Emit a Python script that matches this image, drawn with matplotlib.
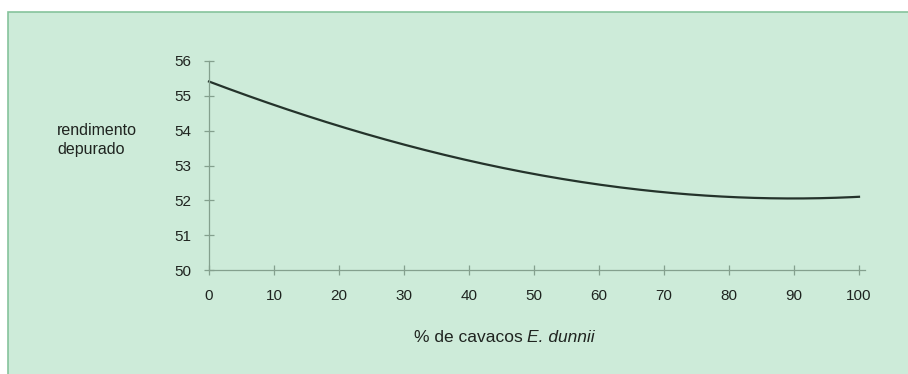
import matplotlib.pyplot as plt
from matplotlib.patches import Rectangle
import numpy as np

# Data
pct_dunnii = [0, 10, 20, 30, 40, 50, 60, 70, 80, 90, 100]
rendimento = [55.4, 54.75, 54.15, 53.6, 53.12, 52.75, 52.45, 52.25, 52.1, 52.05, 52.1]
x_ticks = [0, 10, 20, 30, 40, 50, 60, 70, 80, 90, 100]
y_ticks = [50, 51, 52, 53, 54, 55, 56]

plt.rcParams['font.family'] = ['Liberation Sans', 'DejaVu Sans']

W, H = 908, 374
fig = plt.figure(figsize=(W / 100, H / 100), dpi=100, facecolor='white')

# green panel behind the chart
panel = Rectangle((8 / W, -0.01), 1 - 8 / W + 0.01, 1 - 12 / H + 0.01, transform=fig.transFigure,
                  facecolor='#cdebd9', edgecolor='#86c39c', linewidth=1.2, zorder=-5)
fig.patches.append(panel)

# axes placed in pixel terms
x0, x100 = 209, 859
y50, y56 = 270, 61
ppu_x = (x100 - x0) / 100
xmax = 100.9
ax = fig.add_axes([x0 / W, (H - y50) / H, (xmax * ppu_x) / W, (y50 - y56) / H])
ax.patch.set_alpha(0)
ax.set_zorder(2)

# smooth the read values for drawing
xs = np.array(pct_dunnii, dtype=float)
ys = np.array(rendimento)
coef = np.polyfit(xs, ys, 3)
xf = np.linspace(0, 100, 200)
ax.plot(xf, np.polyval(coef, xf), color='#24332b', linewidth=1.6, clip_on=False)

ax.set_xlim(0, xmax)
ax.set_ylim(50, 56)
ax.set_xticks(x_ticks)
ax.set_yticks(y_ticks)

axis_col = '#84a08e'
for s in ['top', 'right']:
    ax.spines[s].set_visible(False)
for s in ['left', 'bottom']:
    ax.spines[s].set_color(axis_col)
    ax.spines[s].set_linewidth(0.9)
ax.tick_params(axis='both', direction='inout', length=7, width=0.9, color=axis_col,
               labelsize=11, labelcolor='#1f2420')
ax.tick_params(axis='y', pad=9)
ax.tick_params(axis='x', pad=10)

# x label: normal part + italic species name
fig.text(523 / W, 1 - 338 / H, '% de cavacos', ha='right', va='center',
         fontsize=12.5, color='#1f2420', zorder=3)
fig.text(527 / W, 1 - 338 / H, 'E. dunnii', ha='left', va='center',
         fontsize=12.5, fontstyle='italic', color='#1f2420', zorder=3)
fig.text(57 / W, 1 - 140 / H, 'rendimento\ndepurado', ha='left', va='center',
         fontsize=11.5, color='#1f2420', linespacing=1.3, zorder=3)

fig.savefig('out.png', dpi=100, facecolor='white')
